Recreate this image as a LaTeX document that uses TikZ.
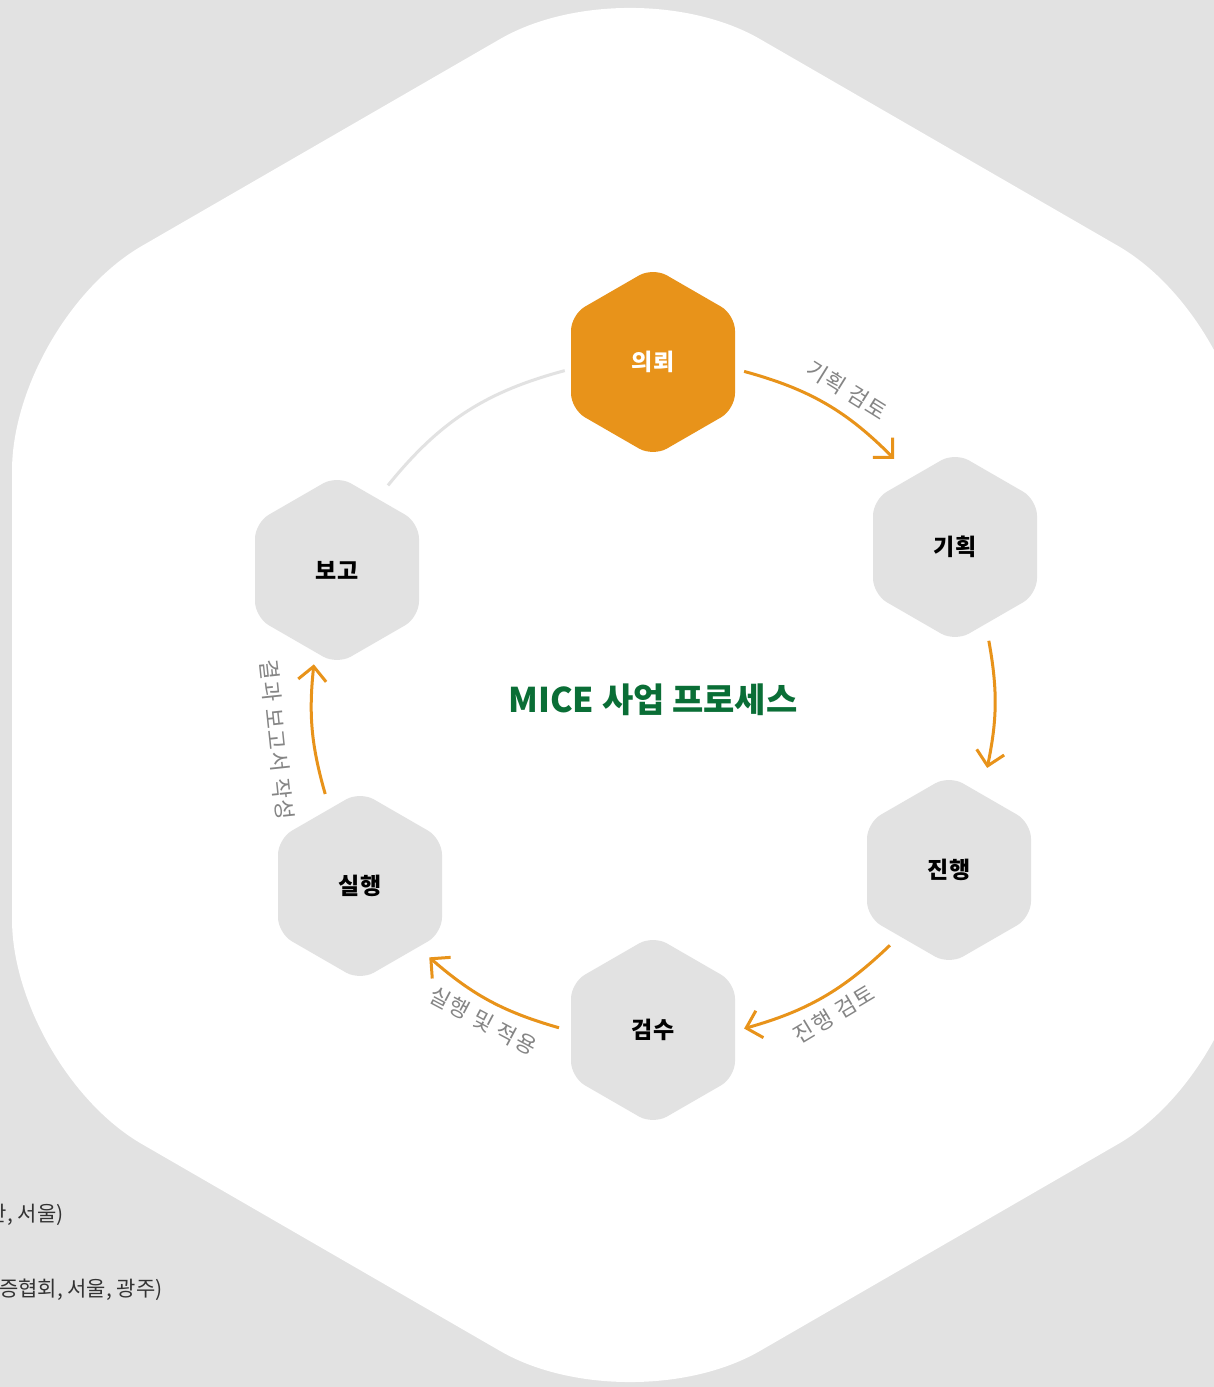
\documentclass[tikz,border=0pt]{standalone}
\usepackage{fontspec}
\setmainfont{Noto Sans CJK KR}
\usetikzlibrary{arrows.meta,backgrounds}

\definecolor{bggray}{HTML}{E2E2E2}
\definecolor{miceorange}{HTML}{E8931A}
\definecolor{micegreen}{HTML}{0A6E36}
\definecolor{labelgray}{HTML}{858585}
\definecolor{notegray}{HTML}{333333}

\tikzset{
  flow/.style={miceorange,line width=3pt,-{Straight Barb[length=14pt,width=28pt]}},
  stepname/.style={font=\fontsize{23}{27}\selectfont\bfseries},
  steplabel/.style={labelgray,font=\fontsize{22}{25}\selectfont\addfontfeatures{LetterSpace=7}},
  note/.style={notegray,font=\fontsize{21}{25}\selectfont,anchor=east},
}

% rounded hexagon behind a step
\newcommand{\hexcell}[2]{\fill[#2,rounded corners=16pt,shift={(#1)}] (-82,0) -- (-82,47.3) -- (0,94.6) -- (82,47.3) -- (82,-47.3) -- (0,-94.6) -- (-82,-47.3) -- cycle;}

\begin{document}
\begin{tikzpicture}[x=1pt,y=1pt]
\useasboundingbox (0,0) rectangle (1214,1387);
\clip (0,0) rectangle (1214,1387);

\coordinate (C) at (653,687);

% steps
\node[stepname,white] (req)  at (653,1025) {의뢰};
\node[stepname] (plan) at (955,840) {기획};
\node[stepname] (run)  at (949,517) {진행};
\node[stepname] (check) at (653,357) {검수};
\node[stepname] (exec) at (360,501) {실행};
\node[stepname] (report) at (337,817) {보고};

\node[micegreen,font=\fontsize{34}{38}\selectfont\bfseries] (title) at (C) {MICE 사업 프로세스};

\begin{scope}[on background layer]
\fill[bggray] (0,0) rectangle (1214,1387);
\fill[white,rounded corners=150pt] (12,692) -- (12,1066) -- (630,1423) -- (1248,1066) -- (1248,318) -- (630,-39) -- (12,318) -- cycle;
\hexcell{req}{miceorange}
\hexcell{plan}{bggray}
\hexcell{run}{bggray}
\hexcell{check}{bggray}
\hexcell{exec}{bggray}
\hexcell{report}{bggray}
\end{scope}

% ends of the arcs on the ring
\path (C) ++(74.5:341) coordinate (a1) (C) ++(45:341) coordinate (b1);
\path (C) ++(10:341) coordinate (a2) (C) ++(-11.5:341) coordinate (b2);
\path (C) ++(-46:341) coordinate (a3) (C) ++(-74.5:341) coordinate (b3);
\path (C) ++(254:341) coordinate (a4) (C) ++(229:341) coordinate (b4);
\path (C) ++(196:341) coordinate (a5) (C) ++(174:341) coordinate (b5);
\path (C) ++(141:341) coordinate (a6) (C) ++(105:341) coordinate (b6);

\draw[flow] (a1) to[bend left=15] (b1);
\draw[flow] (a2) to[bend left=11] (b2);
\draw[flow] (a3) to[bend left=14] (b3);
\draw[flow] (a4) to[bend left=12.5] (b4);
\draw[flow] (a5) to[bend left=11] (b5);
\draw[bggray,line width=3pt] (a6) to[bend left=18] (b6);

\node[steplabel,rotate=-32] (lbl-plan) at (847,997) {기획 검토};
\node[steplabel,rotate=31] (lbl-run) at (834,373) {진행 검토};
\node[steplabel,rotate=-28] (lbl-exec) at (483,366) {실행 및 적용};
\node[steplabel,rotate=-84] (lbl-report) at (277,647) {결과 보고서 작성};

% cut notes, bottom left
\node[note] (note1) at (67,172) {산, 서울)};
\node[note] (note2) at (166,97) {증협회, 서울, 광주)};
\end{tikzpicture}
\end{document}
